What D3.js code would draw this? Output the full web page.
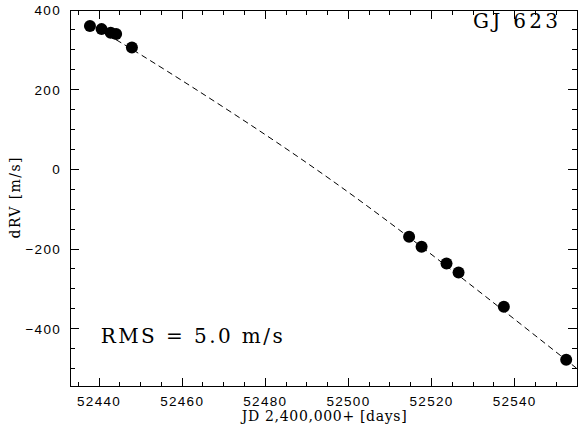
<!DOCTYPE html>
<html><head><meta charset="utf-8">
<script src="https://cdn.jsdelivr.net/npm/d3@7"></script>
<style>body{margin:0;background:#fff}svg{display:block}</style>
</head><body>
<svg id="c" width="586" height="431"></svg>
<script>
const obsJD = [52437.8, 52440.6, 52442.8, 52444.1, 52447.9, 52514.6, 52517.6, 52523.6, 52526.5, 52537.4, 52552.4];
const obsRV = [360, 352, 343, 340, 306, -169, -194, -236, -259, -345, -478];
const fitJD = [52437.8, 52450, 52480, 52513, 52555];
const fitRV = [362, 288, 87, -158, -500];
const xTicks = [52440, 52460, 52480, 52500, 52520, 52540];
const yTicks = [-400, -200, 0, 200, 400];
const xDomain = [52433, 52555];
const yDomain = [-545, 400];

const svg = d3.select("#c");
const L = 70, R = 577, T = 10, B = 386.5;
const x = d3.scaleLinear().domain(xDomain).range([L, R]);
const y = d3.scaleLinear().domain(yDomain).range([B, T]);

const xMinor = d3.range(52435, 52556, 5).filter(v => !xTicks.includes(v));
const yMinor = d3.range(-500, 401, 50).filter(v => !yTicks.includes(v));

const g = svg.append("g").attr("stroke", "#000").attr("stroke-width", 1).attr("shape-rendering", "crispEdges");
function ticks(vals, len) {
  vals.forEach(v => {
    const xv = x(v);
    g.append("line").attr("x1", xv).attr("x2", xv).attr("y1", B).attr("y2", B - len);
    g.append("line").attr("x1", xv).attr("x2", xv).attr("y1", T).attr("y2", T + len);
  });
}
function yt(vals, len) {
  vals.forEach(v => {
    const yv = y(v);
    g.append("line").attr("y1", yv).attr("y2", yv).attr("x1", L).attr("x2", L + len);
    g.append("line").attr("y1", yv).attr("y2", yv).attr("x1", R).attr("x2", R - len);
  });
}
ticks(xTicks, 9); ticks(xMinor, 5);
yt(yTicks.filter(v => v > yDomain[0] && v < yDomain[1]), 9); yt(yMinor, 5);
g.append("rect").attr("x", L).attr("y", T).attr("width", R - L).attr("height", B - T).attr("fill", "none");

// tick labels
const tl = svg.append("g").attr("font-family", "Liberation Sans, Arial, sans-serif").attr("font-size", 13.5).attr("fill", "#000");
xTicks.forEach(v => tl.append("text").attr("x", x(v)).attr("y", 405.5).attr("text-anchor", "middle").attr("letter-spacing", 1.3).text(v));
yTicks.forEach(v => tl.append("text").attr("x", 61).attr("y", y(v)).attr("dy", "0.36em").attr("text-anchor", "end").attr("letter-spacing", 1.3).text(v < 0 ? "\u2212" + Math.abs(v) : v));

// fit line
const line = d3.line().x(d => x(d[0])).y(d => y(d[1])).curve(d3.curveNatural);
svg.append("path").datum(fitJD.map((d, i) => [d, fitRV[i]]))
  .attr("d", line).attr("fill", "none").attr("stroke", "#000").attr("stroke-width", 1).attr("stroke-dasharray", "6,4");

// points
svg.append("g").selectAll("circle").data(obsJD.map((d, i) => [d, obsRV[i]])).join("circle")
  .attr("cx", d => x(d[0])).attr("cy", d => y(d[1])).attr("r", 6).attr("fill", "#000");

// labels
const serif = "DejaVu Serif, Liberation Serif, serif";
svg.append("text").attr("x", 241.7).attr("y", 421).attr("font-family", serif).attr("font-size", 14)
  .attr("textLength", 165).attr("lengthAdjust", "spacing").text("JD  2,400,000+  [days]");
svg.append("text").attr("transform", "translate(20,198) rotate(-90)").attr("text-anchor", "middle")
  .attr("font-family", serif).attr("font-size", 14).attr("textLength", 81).attr("lengthAdjust", "spacing").text("dRV  [m/s]");
svg.append("text").attr("x", 100.7).attr("y", 343).attr("font-family", serif).attr("font-size", 20)
  .attr("textLength", 182).attr("lengthAdjust", "spacing").text("RMS  =  5.0  m/s");
svg.append("text").attr("x", 473).attr("y", 28).attr("font-family", serif).attr("font-size", 20)
  .attr("textLength", 85).attr("lengthAdjust", "spacing").text("GJ  623");
</script>
</body></html>
